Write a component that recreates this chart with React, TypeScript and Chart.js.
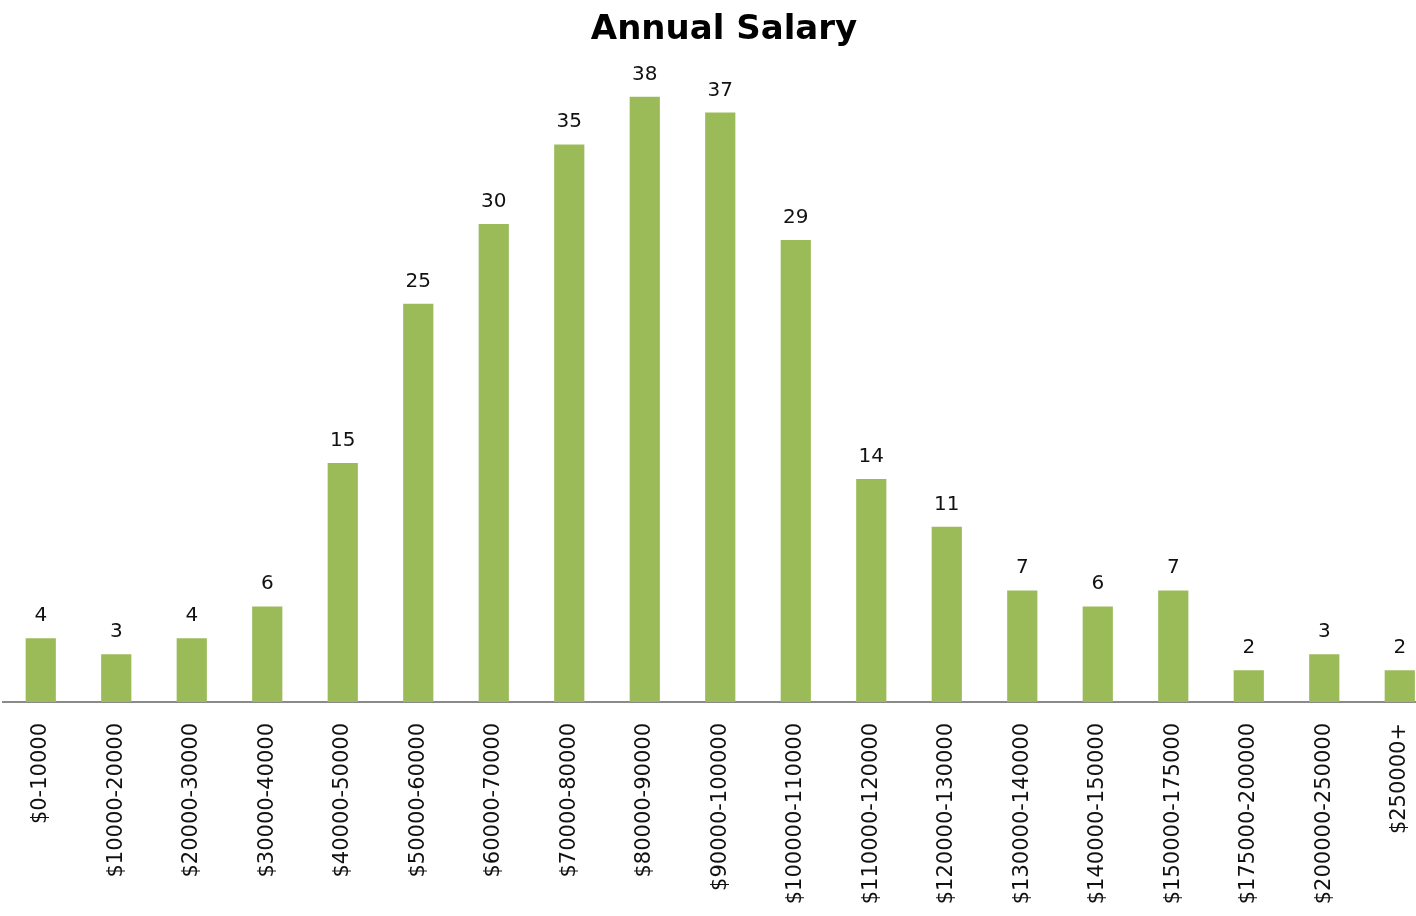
import React, { useEffect, useRef } from "react";
import { Chart, registerables } from "chart.js";

Chart.register(...registerables);

const categories: string[] = [
  "$0-10000",
  "$10000-20000",
  "$20000-30000",
  "$30000-40000",
  "$40000-50000",
  "$50000-60000",
  "$60000-70000",
  "$70000-80000",
  "$80000-90000",
  "$90000-100000",
  "$100000-110000",
  "$110000-120000",
  "$120000-130000",
  "$130000-140000",
  "$140000-150000",
  "$150000-175000",
  "$175000-200000",
  "$200000-250000",
  "$250000+",
];

const counts: number[] = [4, 3, 4, 6, 15, 25, 30, 35, 38, 37, 29, 14, 11, 7, 6, 7, 2, 3, 2];

const titleText = "Annual Salary";
const barColor = "#9BBB59";
const FONT = "'DejaVu Sans', sans-serif";

const valueLabels = {
  id: "valueLabels",
  afterDatasetsDraw(chart: any) {
    const ctx = chart.ctx;
    const meta = chart.getDatasetMeta(0);
    ctx.save();
    ctx.font = `20px ${FONT}`;
    ctx.fillStyle = "#111";
    ctx.textAlign = "center";
    ctx.textBaseline = "alphabetic";
    meta.data.forEach((bar: any, i: number) => {
      const v = chart.data.datasets[0].data[i];
      ctx.fillText(String(v), bar.x, bar.y - 17);
    });
    ctx.restore();
  },
};

export default function App() {
  const ref = useRef<HTMLCanvasElement | null>(null);

  useEffect(() => {
    document.body.style.margin = "0";
    document.body.style.overflow = "hidden";
    if (!ref.current) return;
    const chart = new Chart(ref.current, {
      type: "bar",
      data: {
        labels: categories,
        datasets: [
          {
            data: counts,
            backgroundColor: barColor,
            borderWidth: 0,
            barPercentage: 0.4,
            categoryPercentage: 1,
          },
        ],
      },
      options: {
        responsive: false,
        animation: false,
        layout: { padding: { left: 3, right: 1, top: 0, bottom: 0 } },
        plugins: {
          legend: { display: false },
          tooltip: { enabled: false },
          title: {
            display: true,
            text: titleText,
            color: "#000",
            font: { family: FONT, size: 34, weight: "bold" },
            padding: { top: 10, bottom: 14 },
          },
        },
        scales: {
          x: {
            grid: { display: false, drawTicks: false },
            border: { display: true, color: "#8a8a8a", width: 2 },
            ticks: {
              color: "#111",
              font: { family: FONT, size: 21 },
              maxRotation: 90,
              minRotation: 90,
              padding: 21,
              autoSkip: false,
            },
            afterFit: (scale: any) => {
              scale.height = 214;
            },
          },
          y: {
            display: false,
            min: 0,
            max: 40,
          },
        },
      },
      plugins: [valueLabels],
    });
    return () => chart.destroy();
  }, []);

  return (
    <div style={{ width: 1416, height: 916, overflow: "hidden", background: "#fff" }}>
      <canvas ref={ref} width={1446} height={916} style={{ display: "block" }} />
    </div>
  );
}
